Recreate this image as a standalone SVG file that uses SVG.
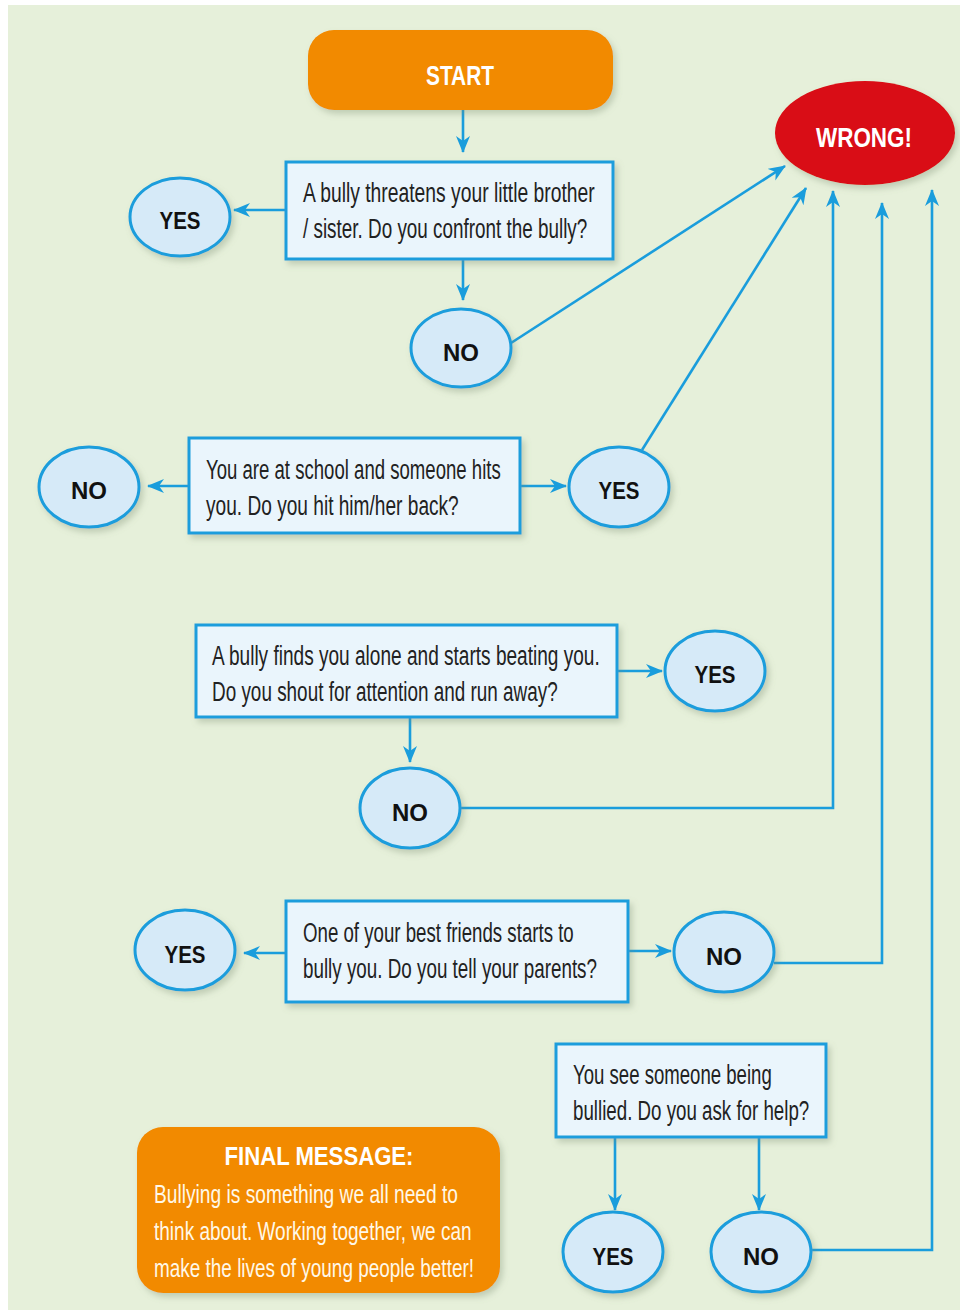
<svg xmlns="http://www.w3.org/2000/svg" width="960" height="1310" viewBox="0 0 960 1310">
<defs>
<style>
.q{fill:#eaf5fc;stroke:#1a9ddc;stroke-width:3}
.o{fill:#d6eaf8;stroke:#1a9ddc;stroke-width:3}
.qt{font-family:"Liberation Sans",Arial,sans-serif;font-size:27px;fill:#222}
.lb{font-family:"Liberation Sans",Arial,sans-serif;font-size:24px;font-weight:bold;fill:#111;text-anchor:middle}
.wt{font-family:"Liberation Sans",Arial,sans-serif;font-weight:bold;fill:#fff;text-anchor:middle}
.fm{font-family:"Liberation Sans",Arial,sans-serif;font-size:25px;fill:#fff8e8}
.c{fill:none;stroke:#1a9ddc;stroke-width:2.6}
</style>
<marker id="ah" markerUnits="userSpaceOnUse" markerWidth="20" markerHeight="16" refX="16" refY="7" orient="auto">
<path d="M0,0 L17,7 L0,14 L5,7 z" fill="#1a9ddc"/>
</marker>
<filter id="sh" x="-10%" y="-10%" width="125%" height="130%">
<feDropShadow dx="3" dy="4" stdDeviation="3" flood-color="#7a8a70" flood-opacity="0.35"/>
</filter>
</defs>
<rect x="0" y="0" width="960" height="1310" fill="#ffffff"/>
<rect x="8" y="5" width="952" height="1305" fill="#e6f0da"/>

<g id="connectors">
<line class="c" x1="463" y1="110" x2="463" y2="152" marker-end="url(#ah)"/>
<line class="c" x1="286" y1="210" x2="234" y2="210" marker-end="url(#ah)"/>
<line class="c" x1="463" y1="259" x2="463" y2="300" marker-end="url(#ah)"/>
<line class="c" x1="511" y1="343" x2="785" y2="166" marker-end="url(#ah)"/>
<line class="c" x1="189" y1="486" x2="148" y2="486" marker-end="url(#ah)"/>
<line class="c" x1="520" y1="486" x2="566" y2="486" marker-end="url(#ah)"/>
<line class="c" x1="642" y1="450" x2="806" y2="188" marker-end="url(#ah)"/>
<line class="c" x1="617" y1="671" x2="662" y2="671" marker-end="url(#ah)"/>
<line class="c" x1="410" y1="717" x2="410" y2="762" marker-end="url(#ah)"/>
<polyline class="c" points="460,808 833,808 833,191" marker-end="url(#ah)"/>
<line class="c" x1="286" y1="953" x2="244" y2="953" marker-end="url(#ah)"/>
<line class="c" x1="628" y1="951" x2="671" y2="951" marker-end="url(#ah)"/>
<polyline class="c" points="774,963 882,963 882,203" marker-end="url(#ah)"/>
<line class="c" x1="615" y1="1137" x2="615" y2="1210" marker-end="url(#ah)"/>
<line class="c" x1="759" y1="1137" x2="759" y2="1210" marker-end="url(#ah)"/>
<polyline class="c" points="811,1250 932,1250 932,190" marker-end="url(#ah)"/>
</g>

<g id="start">
<rect x="308" y="30" width="305" height="80" rx="26" fill="#f28a00" filter="url(#sh)"/>
<text class="wt" x="460" y="85" font-size="28" textLength="68" lengthAdjust="spacingAndGlyphs">START</text>
</g>

<g id="wrong">
<ellipse cx="865" cy="133" rx="90" ry="52" fill="#d90b13" filter="url(#sh)"/>
<text class="wt" x="864" y="147" font-size="28" textLength="96" lengthAdjust="spacingAndGlyphs">WRONG!</text>
</g>

<g id="q1">
<rect class="q" x="286" y="162" width="327" height="97" filter="url(#sh)"/>
<g transform="translate(303,0) scale(0.75,1)">
<text class="qt" x="0" y="202" textLength="389" lengthAdjust="spacingAndGlyphs">A bully threatens your little brother</text>
<text class="qt" x="0" y="238" textLength="379" lengthAdjust="spacingAndGlyphs">/ sister. Do you confront the bully?</text>
</g>
</g>
<g id="q1-yes">
<ellipse class="o" cx="180" cy="217" rx="50" ry="39" filter="url(#sh)"/>
<text class="lb" x="180" y="229" textLength="41" lengthAdjust="spacingAndGlyphs">YES</text>
</g>
<g id="q1-no">
<ellipse class="o" cx="461" cy="348" rx="50" ry="39" filter="url(#sh)"/>
<text class="lb" x="461" y="361" textLength="36" lengthAdjust="spacingAndGlyphs">NO</text>
</g>

<g id="q2">
<rect class="q" x="189" y="438" width="331" height="95" filter="url(#sh)"/>
<g transform="translate(206,0) scale(0.75,1)">
<text class="qt" x="0" y="479" textLength="393" lengthAdjust="spacingAndGlyphs">You are at school and someone hits</text>
<text class="qt" x="0" y="515" textLength="337" lengthAdjust="spacingAndGlyphs">you. Do you hit him/her back?</text>
</g>
</g>
<g id="q2-no">
<ellipse class="o" cx="89" cy="487" rx="50" ry="40" filter="url(#sh)"/>
<text class="lb" x="89" y="499" textLength="36" lengthAdjust="spacingAndGlyphs">NO</text>
</g>
<g id="q2-yes">
<ellipse class="o" cx="619" cy="487" rx="50" ry="40" filter="url(#sh)"/>
<text class="lb" x="619" y="499" textLength="41" lengthAdjust="spacingAndGlyphs">YES</text>
</g>

<g id="q3">
<rect class="q" x="196" y="625" width="421" height="92" filter="url(#sh)"/>
<g transform="translate(212,0) scale(0.75,1)">
<text class="qt" x="0" y="665" textLength="517" lengthAdjust="spacingAndGlyphs">A bully finds you alone and starts beating you.</text>
<text class="qt" x="0" y="701" textLength="461" lengthAdjust="spacingAndGlyphs">Do you shout for attention and run away?</text>
</g>
</g>
<g id="q3-yes">
<ellipse class="o" cx="715" cy="671" rx="50" ry="40" filter="url(#sh)"/>
<text class="lb" x="715" y="683" textLength="41" lengthAdjust="spacingAndGlyphs">YES</text>
</g>
<g id="q3-no">
<ellipse class="o" cx="410" cy="808" rx="50" ry="40" filter="url(#sh)"/>
<text class="lb" x="410" y="821" textLength="36" lengthAdjust="spacingAndGlyphs">NO</text>
</g>

<g id="q4">
<rect class="q" x="286" y="901" width="342" height="101" filter="url(#sh)"/>
<g transform="translate(303,0) scale(0.75,1)">
<text class="qt" x="0" y="942" textLength="361" lengthAdjust="spacingAndGlyphs">One of your best friends starts to</text>
<text class="qt" x="0" y="978" textLength="392" lengthAdjust="spacingAndGlyphs">bully you. Do you tell your parents?</text>
</g>
</g>
<g id="q4-yes">
<ellipse class="o" cx="185" cy="950" rx="50" ry="40" filter="url(#sh)"/>
<text class="lb" x="185" y="963" textLength="41" lengthAdjust="spacingAndGlyphs">YES</text>
</g>
<g id="q4-no">
<ellipse class="o" cx="724" cy="952" rx="50" ry="40" filter="url(#sh)"/>
<text class="lb" x="724" y="965" textLength="36" lengthAdjust="spacingAndGlyphs">NO</text>
</g>

<g id="q5">
<rect class="q" x="556" y="1044" width="270" height="93" filter="url(#sh)"/>
<g transform="translate(573,0) scale(0.75,1)">
<text class="qt" x="0" y="1084" textLength="265" lengthAdjust="spacingAndGlyphs">You see someone being</text>
<text class="qt" x="0" y="1120" textLength="315" lengthAdjust="spacingAndGlyphs">bullied. Do you ask for help?</text>
</g>
</g>
<g id="q5-yes">
<ellipse class="o" cx="613" cy="1252" rx="50" ry="40" filter="url(#sh)"/>
<text class="lb" x="613" y="1265" textLength="41" lengthAdjust="spacingAndGlyphs">YES</text>
</g>
<g id="q5-no">
<ellipse class="o" cx="761" cy="1252" rx="50" ry="40" filter="url(#sh)"/>
<text class="lb" x="761" y="1265" textLength="36" lengthAdjust="spacingAndGlyphs">NO</text>
</g>

<g id="final">
<rect x="137" y="1127" width="363" height="166" rx="26" fill="#f28a00" filter="url(#sh)"/>
<text class="wt" x="319" y="1165" font-size="25" textLength="189" lengthAdjust="spacingAndGlyphs">FINAL MESSAGE:</text>
<g transform="translate(154,0) scale(0.8,1)">
<text class="fm" x="0" y="1203" textLength="380" lengthAdjust="spacingAndGlyphs">Bullying is something we all need to</text>
<text class="fm" x="0" y="1240" textLength="397" lengthAdjust="spacingAndGlyphs">think about. Working together, we can</text>
<text class="fm" x="0" y="1277" textLength="400" lengthAdjust="spacingAndGlyphs">make the lives of young people better!</text>
</g>
</g>
</svg>
